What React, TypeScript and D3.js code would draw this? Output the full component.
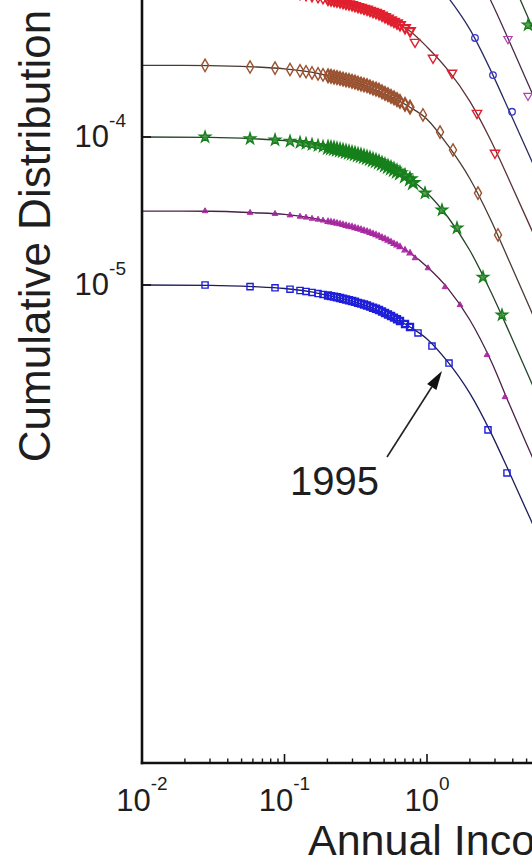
import React from "react";
import * as d3 from "d3";

const W = 532;
const H = 857;

// Fitted-curve sample incomes and the fitted cumulative share for each year
const fitIncome = [0.01, 0.03, 0.06, 0.1, 0.15, 0.2, 0.3, 0.4, 0.55, 0.75, 1.0, 1.4, 2.0, 2.8, 3.8, 5.3, 8.5];
const fit1995 = [1.0e-5, 9.95e-6, 9.75e-6, 9.47e-6, 9.01e-6, 8.52e-6, 7.76e-6, 7.08e-6, 6.17e-6, 5.24e-6, 4.32e-6, 3.02e-6, 1.85e-6, 1.01e-6, 5.37e-7, 2.64e-7, 9.4e-8];
const fit1996 = [3.16e-5, 3.15e-5, 3.08e-5, 3.0e-5, 2.85e-5, 2.69e-5, 2.45e-5, 2.24e-5, 1.95e-5, 1.66e-5, 1.33e-5, 9.5e-6, 5.8e-6, 3.1e-6, 1.55e-6, 7.4e-7, 2.6e-7];
const fit1997 = [1.0e-4, 9.94e-5, 9.73e-5, 9.45e-5, 9.0e-5, 8.5e-5, 7.75e-5, 7.06e-5, 6.15e-5, 5.22e-5, 4.19e-5, 2.88e-5, 1.71e-5, 9.04e-6, 4.74e-6, 2.29e-6, 8.0e-7];
const fit1998 = [3.05e-4, 3.04e-4, 2.98e-4, 2.89e-4, 2.75e-4, 2.6e-4, 2.37e-4, 2.16e-4, 1.88e-4, 1.6e-4, 1.32e-4, 8.8e-5, 5.22e-5, 2.76e-5, 1.43e-5, 6.9e-6, 2.41e-6];
const fit1999 = [1.0e-3, 9.95e-4, 9.75e-4, 9.47e-4, 9.01e-4, 8.52e-4, 7.76e-4, 7.08e-4, 6.17e-4, 5.24e-4, 4.06e-4, 2.84e-4, 1.74e-4, 9.5e-5, 5.05e-5, 2.48e-5, 8.8e-6];
const fit2000 = [3.16e-3, 3.15e-3, 3.08e-3, 3.0e-3, 2.85e-3, 2.69e-3, 2.45e-3, 2.24e-3, 1.95e-3, 1.66e-3, 1.3e-3, 8.83e-4, 5.33e-4, 2.82e-4, 1.48e-4, 7.26e-5, 2.58e-5];
const fit2001 = [1.0e-2, 9.95e-3, 9.75e-3, 9.47e-3, 9.01e-3, 8.52e-3, 7.76e-3, 7.08e-3, 6.17e-3, 5.24e-3, 3.94e-3, 2.62e-3, 1.56e-3, 8.37e-4, 4.39e-4, 2.12e-4, 7.4e-5];
const fit2002 = [3.16e-2, 3.15e-2, 3.08e-2, 3.0e-2, 2.85e-2, 2.69e-2, 2.45e-2, 2.24e-2, 1.95e-2, 1.66e-2, 1.21e-2, 7.93e-3, 4.63e-3, 2.41e-3, 1.24e-3, 5.93e-4, 2.04e-4];

// Observed incomes in the body of the distribution (shared sampling grid)
const bodyIncome = [
  0.0277, 0.0573, 0.0858, 0.1093, 0.1285, 0.1416, 0.156, 0.1719, 0.1863, 0.202, 0.212, 0.2226,
  0.2336, 0.2453, 0.2574, 0.2702, 0.2836, 0.2977, 0.3124, 0.328, 0.3442, 0.3613, 0.3793, 0.3981,
  0.4179, 0.4386, 0.4604, 0.4833, 0.5073, 0.5325, 0.559, 0.5867, 0.6159, 0.6464, 0.7009, 0.76,
];

// Observed cumulative shares, body + upper tail
const body1995 = [
  1.0e-5, 9.75e-6, 9.57e-6, 9.37e-6, 9.18e-6, 9.04e-6, 8.9e-6, 8.76e-6, 8.63e-6, 8.49e-6, 8.41e-6, 8.34e-6,
  8.26e-6, 8.17e-6, 8.08e-6, 7.98e-6, 7.89e-6, 7.8e-6, 7.7e-6, 7.58e-6, 7.49e-6, 7.38e-6, 7.27e-6, 7.15e-6,
  7.02e-6, 6.91e-6, 6.78e-6, 6.62e-6, 6.47e-6, 6.32e-6, 6.17e-6, 6.02e-6, 5.87e-6, 5.71e-6, 5.45e-6, 5.2e-6,
];
const tailIncome1995 = [0.8646, 1.084, 1.427, 2.68, 3.642];
const tail1995 = [4.74e-6, 3.87e-6, 2.97e-6, 1.05e-6, 5.37e-7];

const body1996 = [
  3.16e-5, 3.08e-5, 3.03e-5, 2.96e-5, 2.9e-5, 2.86e-5, 2.81e-5, 2.77e-5, 2.73e-5, 2.68e-5, 2.66e-5, 2.64e-5,
  2.61e-5, 2.58e-5, 2.55e-5, 2.52e-5, 2.49e-5, 2.47e-5, 2.43e-5, 2.4e-5, 2.37e-5, 2.33e-5, 2.3e-5, 2.26e-5,
  2.22e-5, 2.18e-5, 2.14e-5, 2.09e-5, 2.05e-5, 2.0e-5, 1.95e-5, 1.9e-5, 1.86e-5, 1.81e-5, 1.72e-5, 1.64e-5,
];
const tailIncome1996 = [0.8239, 1.016, 1.338, 1.705, 2.637, 3.526];
const tail1996 = [1.52e-5, 1.3e-5, 9.69e-6, 7.33e-6, 3.37e-6, 1.75e-6];

const body1997 = [
  1.0e-4, 9.74e-5, 9.56e-5, 9.36e-5, 9.17e-5, 9.03e-5, 8.89e-5, 8.75e-5, 8.62e-5, 8.48e-5, 8.4e-5, 8.33e-5,
  8.25e-5, 8.16e-5, 8.07e-5, 7.97e-5, 7.88e-5, 7.79e-5, 7.69e-5, 7.57e-5, 7.48e-5, 7.37e-5, 7.26e-5, 7.14e-5,
  7.01e-5, 6.9e-5, 6.77e-5, 6.61e-5, 6.46e-5, 6.31e-5, 6.16e-5, 6.01e-5, 5.86e-5, 5.7e-5, 5.44e-5, 5.19e-5,
];
const tailIncome1997 = [0.7977, 0.9683, 1.274, 1.624, 2.472, 3.36];
const tail1997 = [4.89e-5, 4.18e-5, 3.21e-5, 2.43e-5, 1.13e-5, 6.27e-6];

const body1998 = [
  3.05e-4, 2.97e-4, 2.92e-4, 2.86e-4, 2.8e-4, 2.76e-4, 2.71e-4, 2.67e-4, 2.63e-4, 2.59e-4, 2.57e-4, 2.54e-4,
  2.52e-4, 2.49e-4, 2.46e-4, 2.43e-4, 2.41e-4, 2.38e-4, 2.35e-4, 2.31e-4, 2.28e-4, 2.25e-4, 2.22e-4, 2.18e-4,
  2.14e-4, 2.11e-4, 2.07e-4, 2.02e-4, 1.97e-4, 1.93e-4, 1.88e-4, 1.84e-4, 1.79e-4, 1.74e-4, 1.66e-4, 1.59e-4,
];
const tailIncome1998 = [0.937, 1.234, 1.522, 2.28, 3.15];
const tail1998 = [1.41e-4, 1.08e-4, 8.17e-5, 4.18e-5, 2.18e-5];

const body1999 = [
  1.0e-3, 9.76e-4, 9.58e-4, 9.38e-4, 9.19e-4, 9.05e-4, 8.91e-4, 8.77e-4, 8.64e-4, 8.5e-4, 8.42e-4, 8.35e-4,
  8.27e-4, 8.18e-4, 8.09e-4, 7.99e-4, 7.9e-4, 7.81e-4, 7.71e-4, 7.59e-4, 7.5e-4, 7.39e-4, 7.28e-4, 7.16e-4,
  7.03e-4, 6.92e-4, 6.79e-4, 6.63e-4, 6.48e-4, 6.33e-4, 6.18e-4, 6.03e-4, 5.88e-4, 5.72e-4, 5.46e-4, 5.21e-4,
];
const tailIncome1999 = [0.8239, 1.102, 1.498, 2.243, 3.0];
const tail1999 = [4.38e-4, 3.42e-4, 2.71e-4, 1.45e-4, 7.8e-5];

const tailIncome2000 = [2.172, 2.905, 3.95];
const tail2000 = [4.67e-4, 2.62e-4, 1.48e-4];
const tailIncome2001 = [3.7, 5.114];
const tail2001 = [4.6e-4, 1.9e-4];
const tailIncome2002 = [5.114];
const tail2002 = [5.71e-4];

// Axis ticks
const xMajorTicks = [0.01, 0.1, 1];
const xTickExponents = ["-2", "-1", "0"];
const yMajorTicks = [1e-5, 1e-4, 1e-3];
const yLabelTicks = [1e-4, 1e-5];
const yTickExponents = ["-4", "-5"];

const x = d3.scaleLog().domain([0.01, 1]).range([142, 427]);
const y = d3.scaleLog().domain([1e-5, 1e-4]).range([285, 137]);

const AXIS_Y = 763;
const AXIS_X = 142;
const FONT = "'Liberation Sans', Arial, Helvetica, sans-serif";
// markers in the dense body of each distribution are drawn heavier
const BODY_MIN = 0.2;

type Series = {
  year: number;
  fit: number[];
  income: number[];
  share: number[];
  stroke: string;
  fill: string;
  line: string;
  symbol: d3.SymbolType;
  size: number;
  rotate: number;
  sw: number;
  bodySw: number;
};

const series: Series[] = [
  { year: 1995, fit: fit1995, income: [...bodyIncome, ...tailIncome1995], share: [...body1995, ...tail1995], stroke: "#1e1edc", fill: "none", line: "#1c1c5a", symbol: d3.symbolSquare, size: 38, rotate: 0, sw: 1.4, bodySw: 2.2 },
  { year: 1996, fit: fit1996, income: [...bodyIncome, ...tailIncome1996], share: [...body1996, ...tail1996], stroke: "#b02aa8", fill: "#8a2a86", line: "#4a2048", symbol: d3.symbolTriangle, size: 14, rotate: 0, sw: 1, bodySw: 1.3 },
  { year: 1997, fit: fit1997, income: [...bodyIncome, ...tailIncome1997], share: [...body1997, ...tail1997], stroke: "#16801a", fill: "#3f8f3f", line: "#24442a", symbol: d3.symbolStar, size: 38, rotate: 0, sw: 1.4, bodySw: 2.2 },
  { year: 1998, fit: fit1998, income: [...bodyIncome, ...tailIncome1998], share: [...body1998, ...tail1998], stroke: "#9a5230", fill: "none", line: "#4a3a32", symbol: d3.symbolDiamond, size: 44, rotate: 0, sw: 1.4, bodySw: 2.2 },
  { year: 1999, fit: fit1999, income: [...bodyIncome, ...tailIncome1999], share: [...body1999, ...tail1999], stroke: "#e0202e", fill: "none", line: "#5a3236", symbol: d3.symbolTriangle, size: 38, rotate: 180, sw: 1.4, bodySw: 2.2 },
  { year: 2000, fit: fit2000, income: tailIncome2000, share: tail2000, stroke: "#3a3ad0", fill: "none", line: "#2a2a60", symbol: d3.symbolCircle, size: 34, rotate: 0, sw: 1.3, bodySw: 1.3 },
  { year: 2001, fit: fit2001, income: tailIncome2001, share: tail2001, stroke: "#b040b0", fill: "none", line: "#4a2a4a", symbol: d3.symbolTriangle, size: 30, rotate: 180, sw: 1.2, bodySw: 1.2 },
  { year: 2002, fit: fit2002, income: tailIncome2002, share: tail2002, stroke: "#1a801a", fill: "#3f8f3f", line: "#24442a", symbol: d3.symbolStar, size: 38, rotate: 0, sw: 1.3, bodySw: 1.3 },
];

const fitLine = d3
  .line<[number, number]>()
  .x((d) => x(d[0]))
  .y((d) => y(d[1]))
  .curve(d3.curveMonotoneX);

const minorTickValues = d3
  .scaleLog()
  .domain([0.01, 10])
  .ticks()
  .filter((v) => !xMajorTicks.some((m) => Math.abs(m - v) / m < 1e-6));

export default function App() {
  const marked = series[0];
  const arrowIdx = marked.income.indexOf(1.427);
  const mx = x(marked.income[arrowIdx]);
  const my = y(marked.share[arrowIdx]);
  const tip: [number, number] = [mx - 7, my + 8];
  const tail: [number, number] = [tip[0] - 55, tip[1] + 86];
  const ang = Math.atan2(tip[1] - tail[1], tip[0] - tail[0]);
  const headLen = 19;
  const headHalf = 5.5;
  const bx = tip[0] - headLen * Math.cos(ang);
  const by = tip[1] - headLen * Math.sin(ang);
  const head = [
    [tip[0], tip[1]],
    [bx + headHalf * Math.sin(ang), by - headHalf * Math.cos(ang)],
    [bx - headHalf * Math.sin(ang), by + headHalf * Math.cos(ang)],
  ]
    .map((p) => p.join(","))
    .join(" ");

  return (
    <svg
      width={W}
      height={H}
      viewBox={`0 0 ${W} ${H}`}
      style={{ position: "absolute", left: 0, top: 0, background: "#fff" }}
      fontFamily={FONT}
    >
      <defs>
        <clipPath id="plot-area">
          <rect x={AXIS_X} y={-50} width={W} height={AXIS_Y + 50} />
        </clipPath>
      </defs>
      <rect x={0} y={0} width={W} height={H} fill="#fff" />

      <g clipPath="url(#plot-area)">
        {series.map((s) => (
          <path
            key={`fit-${s.year}`}
            d={fitLine(fitIncome.map((v, i) => [v, s.fit[i]] as [number, number])) || ""}
            fill="none"
            stroke={s.line}
            strokeWidth={1.3}
          />
        ))}
        {series.map((s) => {
          const path = d3.symbol().type(s.symbol).size(s.size)() || "";
          return (
            <g key={`pts-${s.year}`}>
              {s.income.map((v, i) => (
                <path
                  key={i}
                  d={path}
                  transform={`translate(${x(v)},${y(s.share[i])}) rotate(${s.rotate})`}
                  fill={s.fill}
                  fillOpacity={s.fill === "none" ? 0 : 0.85}
                  stroke={s.stroke}
                  strokeWidth={v >= BODY_MIN && v < 0.8 ? s.bodySw : s.sw}
                />
              ))}
            </g>
          );
        })}
      </g>

      {/* axes */}
      <line x1={AXIS_X} x2={AXIS_X} y1={0} y2={AXIS_Y + 1.2} stroke="#111" strokeWidth={2.6} />
      <line x1={AXIS_X - 1.2} x2={W} y1={AXIS_Y} y2={AXIS_Y} stroke="#111" strokeWidth={2.6} />

      {xMajorTicks.map((v) => (
        <line key={`xM-${v}`} x1={x(v)} x2={x(v)} y1={AXIS_Y} y2={AXIS_Y - 9} stroke="#111" strokeWidth={1.6} />
      ))}
      {minorTickValues.map((v) => (
        <line key={`xm-${v}`} x1={x(v)} x2={x(v)} y1={AXIS_Y} y2={AXIS_Y - 4.5} stroke="#111" strokeWidth={1.4} />
      ))}
      {yMajorTicks.map((v) => (
        <line key={`yM-${v}`} x1={AXIS_X} x2={AXIS_X + 9} y1={y(v)} y2={y(v)} stroke="#111" strokeWidth={1.6} />
      ))}

      {xMajorTicks.map((v, i) => (
        <text key={`xl-${v}`} x={x(v)} y={811} textAnchor="middle" fontSize={31} fill="#1e1e1e">
          <tspan>10</tspan>
          <tspan dy={-21} fontSize={19}>{xTickExponents[i]}</tspan>
        </text>
      ))}
      {yLabelTicks.map((v, i) => (
        <text key={`yl-${v}`} x={126} y={y(v) + 10} textAnchor="end" fontSize={31} fill="#1e1e1e">
          <tspan>10</tspan>
          <tspan dy={-20} fontSize={19}>{yTickExponents[i]}</tspan>
        </text>
      ))}

      <text
        transform="translate(50,236) rotate(-90)"
        textAnchor="middle"
        fontSize={44}
        fill="#1e1e1e"
      >
        Cumulative Distribution
      </text>
      <text x={308} y={855} fontSize={43} fill="#1e1e1e">
        Annual Income
      </text>

      {/* annotation for the 1995 curve */}
      <line x1={tail[0]} y1={tail[1]} x2={bx} y2={by} stroke="#222" strokeWidth={1.6} />
      <polygon points={head} fill="#111" />
      <text x={290} y={495} fontSize={40} fill="#1e1e1e">
        1995
      </text>
    </svg>
  );
}
